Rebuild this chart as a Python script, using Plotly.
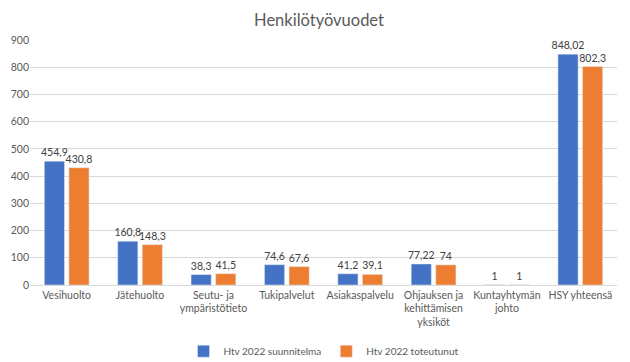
import plotly.graph_objects as go

categories = ["Vesihuolto", "Jätehuolto", "Seutu- ja<br>ympäristötieto", "Tukipalvelut",
              "Asiakaspalvelu", "Ohjauksen ja<br>kehittämisen<br>yksiköt", "Kuntayhtymän<br>johto",
              "HSY yhteensä"]
suunnitelma = [454.9, 160.8, 38.3, 74.6, 41.2, 77.22, 1, 848.02]
toteutunut = [430.8, 148.3, 41.5, 67.6, 39.1, 74, 1, 802.3]
y_ticks = [0, 100, 200, 300, 400, 500, 600, 700, 800, 900]

def fmt(vals):
    return [f"{v:g}".replace(".", ",") for v in vals]

FONT = "Lato, 'Open Sans', sans-serif"

fig = go.Figure()
fig.add_trace(go.Bar(x=categories, y=suunnitelma, name="Htv 2022 suunnitelma",
                     marker_color="#4472C4", text=fmt(suunnitelma), textposition="outside",
                     constraintext="none",
                     textfont=dict(size=10.5, color="#404040"), cliponaxis=False))
fig.add_trace(go.Bar(x=categories, y=toteutunut, name="Htv 2022 toteutunut",
                     marker_color="#ED7D31", text=fmt(toteutunut), textposition="outside",
                     constraintext="none",
                     textfont=dict(size=10.5, color="#404040"), cliponaxis=False))

# page body has an 8px margin, so the figure is drawn at (8, 8)
fig.update_layout(
    width=622, height=354,
    margin=dict(l=22, r=13, t=32, b=77, autoexpand=False),
    paper_bgcolor="white", plot_bgcolor="white",
    font=dict(family=FONT, size=10.5, color="#595959"),
    title=dict(text="Henkilötyövuodet", x=0.5, xanchor="center", y=0.966, yanchor="middle",
               font=dict(size=16.5, color="#595959", family=FONT)),
    barmode="group", bargap=0.33, bargroupgap=0.18,
    showlegend=True,
    legend=dict(orientation="h", x=0.5, xanchor="center", y=-0.27, yanchor="middle",
                font=dict(size=10, color="#595959"), itemwidth=30, tracegroupgap=0),
)
fig.update_yaxes(range=[0, 900], tickvals=y_ticks, showgrid=True, gridcolor="#d9d9d9",
                 zeroline=False, showline=False, tickfont=dict(size=10.5, color="#595959"),
                 ticks="", ticklen=0, automargin=False)
fig.update_xaxes(showline=True, linecolor="#d9d9d9", tickfont=dict(size=10.5, color="#595959"),
                 ticks="", tickangle=0, automargin=False)

fig.write_html("out.html")
